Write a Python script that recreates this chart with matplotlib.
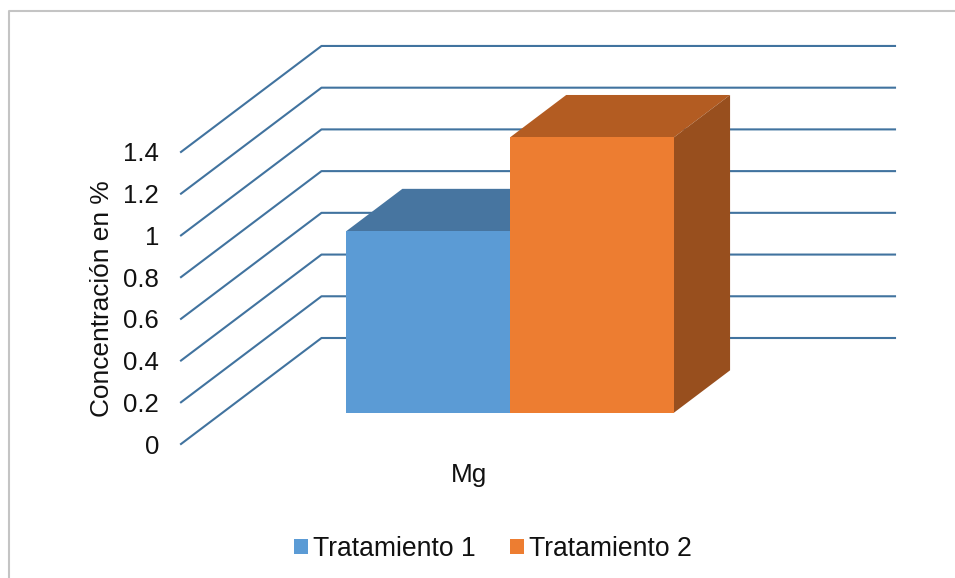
import matplotlib
matplotlib.use('Agg')
import matplotlib.pyplot as plt
from matplotlib.lines import Line2D
from matplotlib.patches import Patch, Polygon

plt.rcParams['font.family'] = ['Liberation Sans', 'DejaVu Sans']

categories = ['Mg']
series_names = ['Tratamiento 1', 'Tratamiento 2']
series_values = [0.87, 1.32]
yticks = [0, 0.2, 0.4, 0.6, 0.8, 1, 1.2, 1.4]

front_colors = ['#5b9bd5', '#ed7d31']
top_colors = ['#4775a0', '#b35c22']
side_colors = ['#3d6489', '#984f1e']
grid_color = '#41739f'

# oblique projection: depth 0 is the front of the floor, depth 1 the back wall
depth_x = 140.5 / 573.5
depth_y = 106 / 208.6
bar_width = 1 / 3.5
front, back = 0.295, 0.695


def proj(x, v, d):
    return x + d * depth_x, v + d * depth_y


fig = plt.figure(figsize=(9.55, 5.78), dpi=100)
ax = fig.add_axes([0, 0, 1, 1])
ax.set_xlim(-181 / 573.5, (955 - 181) / 573.5)
ax.set_ylim(-134 / 208.6, 444 / 208.6)
ax.axis('off')

# outer frame
fig.add_artist(Line2D([0.0095, 0.0095, 1], [0, 0.981, 0.981], color='#c4c4c4', lw=1.5))

# gridlines: side wall then back wall
for t in yticks:
    xs = [proj(0, t, 0)[0], proj(0, t, 1)[0], proj(1, t, 1)[0]]
    ys = [proj(0, t, 0)[1], proj(0, t, 1)[1], proj(1, t, 1)[1]]
    ax.plot(xs, ys, color=grid_color, lw=1.5, zorder=1)
    ax.text(-0.038, t - 0.012, str(t), ha='right', va='center', fontsize=18.5, color='#111111')

# bars, left to right so the later one overlaps the earlier one
for i, v in enumerate(series_values):
    x0 = bar_width * (0.755 + i)
    x1 = x0 + bar_width
    z = 3 + i
    top = [proj(x0, v, front), proj(x1, v, front), proj(x1, v, back), proj(x0, v, back)]
    side = [proj(x1, 0, front), proj(x1, 0, back), proj(x1, v, back), proj(x1, v, front)]
    ax.add_patch(Polygon(top, closed=True, fc=top_colors[i], ec='none', zorder=z))
    ax.add_patch(Polygon(side, closed=True, fc=side_colors[i], ec='none', zorder=z))
    fx, fy = proj(x0, 0, front)
    ax.bar(fx, v, width=bar_width, bottom=fy, align='edge', color=front_colors[i], zorder=z)

ax.text(0.5025, -0.148, categories[0], ha='center', va='center', fontsize=18.8, color='#111111')
fig.text(0.1065, 0.484, 'Concentración en %', rotation=90, ha='center', va='center',
         fontsize=18.9, color='#111111')

handles = [Patch(fc=c, ec='none') for c in front_colors]
fig.legend(handles, series_names, loc='center', bbox_to_anchor=(0.5163, 0.0505), ncol=2,
           frameon=False, fontsize=19.1, handlelength=0.5, handleheight=0.5,
           handletextpad=0.2, columnspacing=1.32, labelcolor='#111111')

fig.savefig('out.png', dpi=100)
